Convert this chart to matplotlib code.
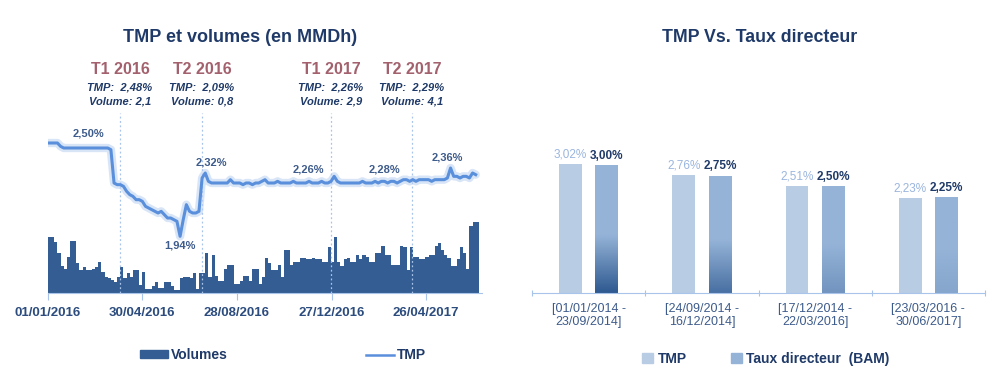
import matplotlib
matplotlib.use("Agg")
import matplotlib.pyplot as plt
import matplotlib.dates as mdates
from matplotlib.patches import Patch
from matplotlib.lines import Line2D
from matplotlib.colors import LinearSegmentedColormap
import numpy as np
import pandas as pd

plt.rcParams['font.family'] = ['Liberation Sans', 'DejaVu Sans']

# --- left chart: TMP (daily rate, sampled every 4 days) and volumes (MMDh)
dates = pd.date_range("2016-01-01", periods=137, freq="4D")

tmp = [2.50, 2.50, 2.50, 2.50, 2.48, 2.47, 2.47, 2.47, 2.47, 2.47,
       2.47, 2.47, 2.47, 2.47, 2.47, 2.47, 2.47, 2.47, 2.47, 2.47,
       2.46, 2.26, 2.25, 2.25, 2.24, 2.21, 2.19, 2.18, 2.16, 2.16,
       2.15, 2.12, 2.11, 2.10, 2.09, 2.08, 2.09, 2.07, 2.05, 2.05,
       2.04, 2.03, 1.94, 2.04, 2.13, 2.09, 2.08, 2.08, 2.09, 2.29,
       2.32, 2.27, 2.26, 2.26, 2.26, 2.26, 2.26, 2.26, 2.28, 2.26,
       2.26, 2.26, 2.25, 2.26, 2.26, 2.25, 2.26, 2.26, 2.27, 2.28,
       2.26, 2.26, 2.26, 2.27, 2.26, 2.26, 2.26, 2.26, 2.27, 2.26,
       2.26, 2.26, 2.26, 2.27, 2.26, 2.26, 2.26, 2.27, 2.26, 2.26,
       2.27, 2.30, 2.27, 2.26, 2.26, 2.26, 2.26, 2.26, 2.26, 2.26,
       2.27, 2.26, 2.26, 2.26, 2.27, 2.26, 2.27, 2.27, 2.26, 2.27,
       2.27, 2.26, 2.27, 2.28, 2.28, 2.27, 2.28, 2.27, 2.28, 2.28,
       2.28, 2.28, 2.27, 2.28, 2.28, 2.28, 2.28, 2.29, 2.35, 2.30,
       2.30, 2.29, 2.30, 2.30, 2.29, 2.32, 2.31]

volumes = [4.2, 4.2, 3.8, 3.0, 2.0, 1.8, 2.7, 3.9, 3.9, 2.2,
           1.7, 1.9, 1.7, 1.7, 1.8, 1.9, 2.3, 1.6, 1.2, 1.1,
           1.0, 0.8, 1.2, 1.9, 1.1, 1.5, 1.2, 1.7, 1.7, 0.6,
           1.6, 0.3, 0.3, 0.5, 0.8, 0.4, 0.4, 0.8, 0.8, 0.5,
           0.2, 0.2, 1.1, 1.2, 1.2, 1.1, 1.5, 0.3, 1.5, 1.5,
           3.0, 1.2, 2.8, 1.3, 0.9, 0.9, 1.8, 2.1, 2.1, 0.7,
           0.7, 0.9, 1.3, 1.3, 0.9, 1.8, 1.8, 0.7, 1.2, 2.6,
           2.2, 1.7, 1.7, 2.1, 1.2, 3.2, 3.2, 2.1, 2.3, 2.3,
           2.6, 2.6, 2.5, 2.5, 2.6, 2.5, 2.5, 2.3, 2.3, 3.4,
           2.3, 4.2, 2.3, 2.0, 2.5, 2.6, 2.3, 2.3, 2.8, 2.5,
           2.8, 2.7, 2.3, 2.3, 3.0, 3.0, 3.5, 2.8, 2.8, 2.1,
           2.1, 2.1, 3.5, 3.4, 1.7, 3.4, 2.7, 2.7, 2.5, 2.5,
           2.7, 2.8, 2.8, 3.5, 3.7, 3.2, 2.8, 2.6, 2.0, 2.0,
           2.5, 3.4, 3.0, 1.8, 5.0, 5.3, 5.3]

tick_dates = ["2016-01-01", "2016-04-30", "2016-08-28", "2016-12-27", "2017-04-26"]
tick_labels = ["01/01/2016", "30/04/2016", "28/08/2016", "27/12/2016", "26/04/2017"]

quarter_dates = ["2016-04-01", "2016-07-15", "2016-12-26", "2017-04-08"]
quarters = ["T1 2016", "T2 2016", "T1 2017", "T2 2017"]
quarter_tmp = ["2,48%", "2,09%", "2,26%", "2,29%"]
quarter_vol = ["2,1", "0,8", "2,9", "4,1"]

# --- right chart
periods = ["[01/01/2014 -\n23/09/2014]", "[24/09/2014 -\n16/12/2014]",
           "[17/12/2014 -\n22/03/2016]", "[23/03/2016 -\n30/06/2017]"]
tmp_period = [3.02, 2.76, 2.51, 2.23]
taux_bam = [3.00, 2.75, 2.50, 2.25]

navy = "#1f3a68"
bar_dark = "#335d93"
line_blue = "#5a8fdc"
rose = "#a3616d"
label_blue = "#3d5b8b"

W, H = 995, 390
fig = plt.figure(figsize=(W / 100, H / 100), dpi=100)

def px(x0, y0, x1, y1):
    return [x0 / W, 1 - y1 / H, (x1 - x0) / W, (y1 - y0) / H]

# ---------------- left chart ----------------
axv = fig.add_axes(px(48, 113, 482, 293))
axl = axv.twinx()
axv.set_zorder(1)
axl.set_zorder(2)
axl.patch.set_visible(False)

x = mdates.date2num(dates)
axv.bar(x, volumes, width=4.0, align="edge", color=bar_dark, linewidth=0)
axv.set_ylim(0, 13.4)
axv.set_xlim(x[0], x[0] + 552)

axl.plot(x, tmp, color="#b9d0f2", lw=6, alpha=0.55, solid_capstyle="round")
axl.plot(x, tmp, color=line_blue, lw=2.2)
axl.set_ylim(1.60, 2.68)
axl.set_xlim(x[0], x[0] + 552)

for qd in quarter_dates:
    axv.axvline(mdates.date2num(pd.Timestamp(qd)), color="#a9c4ea", lw=0.9, ls=(0, (1.5, 2)))

for ax in (axv, axl):
    for s in ("top", "right", "left"):
        ax.spines[s].set_visible(False)
    ax.set_yticks([])
axv.spines["bottom"].set_color("#a9c4ea")
axl.spines["bottom"].set_visible(False)
axv.set_xticks(mdates.date2num(pd.to_datetime(tick_dates)))
axv.set_xticklabels(tick_labels, fontsize=9.5, fontweight="bold", color="#2c4c7e")
axv.tick_params(axis="x", color="#a9c4ea", length=5, pad=5)

fig.text(240 / W, 1 - 37 / H, "TMP et volumes (en MMDh)", ha="center", va="center",
         fontsize=13, fontweight="bold", color=navy)

qx = [120, 202, 331, 412]
for xx, q, t, v in zip(qx, quarters, quarter_tmp, quarter_vol):
    fig.text(xx / W, 1 - 70 / H, q, ha="center", va="center", fontsize=11.5,
             fontweight="bold", color=rose)
    fig.text(xx / W, 1 - 87 / H, "TMP:  " + t, ha="center", va="center", fontsize=8,
             fontweight="bold", style="italic", color=navy)
    fig.text(xx / W, 1 - 101 / H, "Volume: " + v, ha="center", va="center", fontsize=8,
             fontweight="bold", style="italic", color=navy)

point_labels = [("2,50%", 88, 133), ("2,32%", 211, 162), ("1,94%", 180, 245),
                ("2,26%", 308, 170), ("2,28%", 384, 169), ("2,36%", 447, 157)]
for s, xx, yy in point_labels:
    fig.text(xx / W, 1 - yy / H, s, ha="center", va="center", fontsize=8,
             fontweight="bold", color=label_blue)

fig.legend(handles=[Patch(color=bar_dark, label="Volumes"),
                    Line2D([0], [0], color=line_blue, lw=1.8, label="TMP")],
           loc="center", bbox_to_anchor=(283 / W, 1 - 355 / H), ncol=2, frameon=False,
           handlelength=2.0, handleheight=0.5, handletextpad=0.2, columnspacing=10,
           prop={"weight": "bold", "size": 10}, labelcolor=navy)

# ---------------- right chart ----------------
axr = fig.add_axes(px(532, 115, 985, 293))
pos = np.arange(len(periods))
bw = 0.2
b1 = axr.bar(pos - 0.16, tmp_period, width=bw, color="#b8cce4", linewidth=0)
b2 = axr.bar(pos + 0.16, taux_bam, width=bw, color="#95b3d7", linewidth=0)

# darker gradient at the bottom of the policy-rate bars
strength = [1.0, 0.75, 0.35, 0.15]
cmap = LinearSegmentedColormap.from_list("g", ["#95b3d7", "#2f5a91"])
for rect, st in zip(b2, strength):
    grad = np.linspace(0, 1, 100).reshape(-1, 1)
    grad = np.clip((grad - 0.55) / 0.45, 0, 1) * st
    x0 = rect.get_x()
    im = axr.imshow(grad, extent=[x0, x0 + rect.get_width(), 0, rect.get_height()],
                    origin="upper", cmap=cmap, vmin=0, vmax=1, aspect="auto", zorder=2)
    im.set_clip_path(rect)
axr.set_xlim(-0.5, 3.5)
axr.set_ylim(0, 4.17)

for rect, v in zip(b1, tmp_period):
    axr.text(rect.get_x() + rect.get_width() / 2, v + 0.08, f"{v:.2f}%".replace(".", ","),
             ha="center", va="bottom", fontsize=8.5, color="#9ab5de")
for rect, v in zip(b2, taux_bam):
    axr.text(rect.get_x() + rect.get_width() / 2, v + 0.08, f"{v:.2f}%".replace(".", ","),
             ha="center", va="bottom", fontsize=8.5, fontweight="bold", color=navy)

for s in ("top", "right", "left"):
    axr.spines[s].set_visible(False)
axr.spines["bottom"].set_color("#a9c4ea")
axr.set_yticks([])
axr.set_xticks(np.arange(-0.5, 4.0, 1.0), minor=False)
axr.set_xticklabels([])
axr.tick_params(axis="x", which="major", color="#a9c4ea", length=5, direction="inout")
axr.set_xticks(pos, minor=True)
axr.set_xticklabels(periods, minor=True, fontsize=9, color=label_blue, linespacing=1.15)
axr.tick_params(axis="x", which="minor", length=0, pad=7)

fig.text(760 / W, 1 - 37 / H, "TMP Vs. Taux directeur", ha="center", va="center",
         fontsize=12.8, fontweight="bold", color=navy)

fig.legend(handles=[Patch(color="#b8cce4", label="TMP"),
                    Patch(color="#95b3d7", label="Taux directeur  (BAM)")],
           loc="center", bbox_to_anchor=(766 / W, 1 - 359 / H), ncol=2, frameon=False,
           handlelength=0.8, handleheight=0.8, handletextpad=0.3, columnspacing=3.2,
           prop={"weight": "bold", "size": 10}, labelcolor=navy)

fig.savefig("out.png", dpi=100)
